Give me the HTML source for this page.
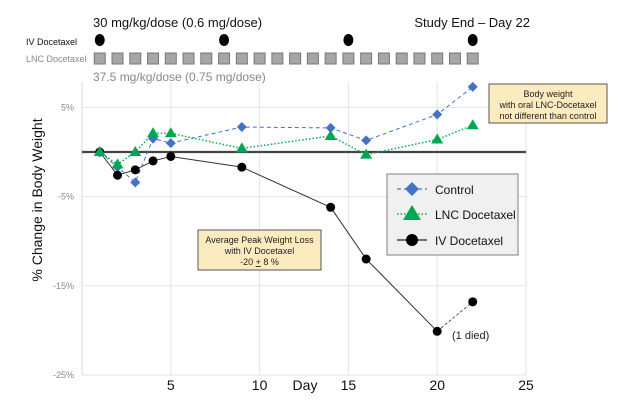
<!DOCTYPE html>
<html><head><meta charset="utf-8"><style>
body{margin:0;background:#fff;}
svg{display:block;font-family:"Liberation Sans",sans-serif;}
</style></head><body>
<svg id="c" width="624" height="404" viewBox="0 0 624 404">
<g id="grid"></g>
<g id="axes"></g>
<g id="series"></g>
<g id="dosing"></g>
<text x="93" y="27" font-size="13" fill="#111">30 mg/kg/dose (0.6 mg/dose)</text>
<text x="530" y="27" font-size="13" fill="#111" text-anchor="end">Study End – Day 22</text>
<text x="26" y="45" font-size="9" fill="#111">IV Docetaxel</text>
<text x="26" y="62" font-size="9" fill="#888">LNC Docetaxel</text>
<text x="93" y="81" font-size="12" fill="#888">37.5 mg/kg/dose (0.75 mg/dose)</text>
<text transform="translate(42,200) rotate(-90)" font-size="14" text-anchor="middle" fill="#111">% Change in Body Weight</text>
<text x="305" y="390" font-size="14" text-anchor="middle" fill="#111">Day</text>
<text x="452" y="339" font-size="11" fill="#222">(1 died)</text>
<g>
<rect x="198" y="230" width="123" height="40" fill="#fdebc0" stroke="#555" stroke-width="1"/>
<text x="259.5" y="243" font-size="9" text-anchor="middle" fill="#222">Average Peak Weight Loss</text>
<text x="259.5" y="254" font-size="9" text-anchor="middle" fill="#222">with IV Docetaxel</text>
<text x="259.5" y="265" font-size="9" text-anchor="middle" fill="#222">-20 <tspan text-decoration="underline">+</tspan> 8 %</text>
</g>
<g>
<rect x="489" y="84" width="118" height="39" fill="#fdebc0" stroke="#555" stroke-width="1"/>
<text x="548" y="97" font-size="9" text-anchor="middle" fill="#222">Body weight</text>
<text x="548" y="108" font-size="9" text-anchor="middle" fill="#222">with oral LNC-Docetaxel</text>
<text x="548" y="119" font-size="9" text-anchor="middle" fill="#222">not different than control</text>
</g>
<g>
<rect x="387" y="174" width="131" height="81" fill="#f0f0f0" stroke="#7f7f7f" stroke-width="1"/>
<g>
<line x1="397" y1="189" x2="427" y2="189" stroke="#4472c4" stroke-width="1.2" stroke-dasharray="4,3"/>
<path d="M412 182 L419 189 L412 196 L405 189Z" fill="#4472c4"/>
<text x="435" y="194" font-size="12" fill="#111">Control</text></g>
<g>
<line x1="397" y1="214" x2="427" y2="214" stroke="#00b050" stroke-width="1.5" stroke-dasharray="1.5,2"/>
<path d="M412 205 L421 220 L403 220Z" fill="#00a651"/>
<text x="435" y="219" font-size="12" fill="#111">LNC Docetaxel</text></g>
<g>
<line x1="397" y1="240" x2="427" y2="240" stroke="#222" stroke-width="1.2"/>
<circle cx="412" cy="240" r="6" fill="#000"/>
<text x="435" y="245" font-size="12" fill="#111">IV Docetaxel</text></g>
</g>
</svg>
<script>
const xTicks=[5,10,15,20,25];
const yTicks=[5,-5,-15,-25];
const yTickLabels=["5%","-5%","-15%","-25%"];
const ctrlDays=[1,2,3,4,5,9,14,16,20,22];
const ctrlVals=[0,-1.7,-3.4,1.5,1.0,2.8,2.7,1.3,4.2,7.3];
const lncDays=[1,2,3,4,5,9,14,16,20,22];
const lncVals=[0,-1.4,0,2.1,2.1,0.4,1.8,-0.3,1.4,3.0];
const ivDays=[1,2,3,4,5,9,14,16,20,22];
const ivVals=[0,-2.6,-2.0,-1.0,-0.5,-1.7,-6.2,-12.0,-20.1,-16.8];
const ivDoseDays=[1,8,15,22];
const lncDoseDays=[1,2,3,4,5,6,7,8,9,10,11,12,13,14,15,16,17,18,19,20,21,22];

const NS="http://www.w3.org/2000/svg";
const X=d=>82+d*17.76;
const Y=v=>152-v*8.92;
function mk(p,t,a){const e=document.createElementNS(NS,t);for(const k in a)e.setAttribute(k,a[k]);p.appendChild(e);return e;}
const grid=document.getElementById('grid'),axes=document.getElementById('axes'),ser=document.getElementById('series'),dos=document.getElementById('dosing');
mk(grid,'line',{x1:X(0),y1:82,x2:X(0),y2:Y(-25),stroke:'#d9d9d9'});
xTicks.forEach(t=>{
 const l=mk(grid,'line',{x1:X(t),y1:82,x2:X(t),y2:Y(-25),stroke:'#e3e3e3'});
 
 
 const tx=mk(axes,'text',{x:X(t),y:390,'font-size':14,'text-anchor':'middle',fill:'#111'});
 tx.textContent=t;
 
 
});
yTicks.forEach((t,i)=>{
 const l=mk(grid,'line',{x1:X(0),y1:Y(t),x2:X(25),y2:Y(t),stroke:'#e3e3e3'});
 
 
 const tx=mk(axes,'text',{x:74,y:Y(t)+3,'font-size':9,'text-anchor':'end',fill:'#888'});
 tx.textContent=yTickLabels[i];
 
 
});
const z=mk(axes,'line',{x1:X(0),y1:Y(0),x2:X(25),y2:Y(0),stroke:'#444','stroke-width':2.2});


function pts(ds,vs){return ds.map((d,i)=>X(d)+','+Y(vs[i])).join(' ');}
const n=ivDays.length;
const ivl=mk(ser,'polyline',{points:pts(ivDays.slice(0,n-1),ivVals.slice(0,n-1)),fill:'none',stroke:'#333','stroke-width':1});


const ivd=mk(ser,'polyline',{points:pts(ivDays.slice(n-2),ivVals.slice(n-2)),fill:'none',stroke:'#555','stroke-width':1,'stroke-dasharray':'3,2'});


const cl=mk(ser,'polyline',{points:pts(ctrlDays,ctrlVals),fill:'none',stroke:'#4472c4','stroke-width':1,'stroke-dasharray':'4,3'});


const ll=mk(ser,'polyline',{points:pts(lncDays,lncVals),fill:'none',stroke:'#00b050','stroke-width':1.5,'stroke-dasharray':'1.5,2'});


ctrlDays.forEach((d,i)=>{const x=X(d),y=Y(ctrlVals[i]);
 const p=mk(ser,'path',{d:`M${x} ${y-5}L${x+5} ${y}L${x} ${y+5}L${x-5} ${y}Z`,fill:'#4472c4'});
 
 });
ivDays.forEach((d,i)=>{
 const c=mk(ser,'circle',{cx:X(d),cy:Y(ivVals[i]),r:4.5,fill:'#000'});
 
 });
lncDays.forEach((d,i)=>{const x=X(d),y=Y(lncVals[i]);
 const p=mk(ser,'path',{d:`M${x} ${y-6}L${x+6} ${y+4}L${x-6} ${y+4}Z`,fill:'#00a651'});
 
 });
ivDoseDays.forEach(d=>{
 const c=mk(dos,'ellipse',{cx:X(d),cy:40,rx:5,ry:6,fill:'#000'});
 
 });
lncDoseDays.forEach(d=>{
 const r=mk(dos,'rect',{x:X(d)-5.5,y:53,width:11,height:11,fill:'#a6a6a6',stroke:'#777','stroke-width':1});
 
 });
</script>
</body></html>
